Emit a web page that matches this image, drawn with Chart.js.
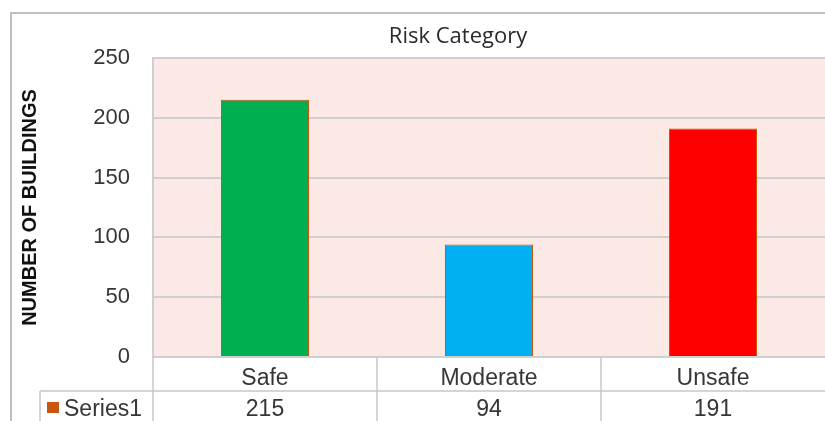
<!DOCTYPE html>
<html><head><meta charset="utf-8">
<script src="https://cdn.jsdelivr.net/npm/chart.js@4.4.0/dist/chart.umd.min.js"></script>
<style>html,body{margin:0;padding:0;background:#fff;} #wrap{width:825px;height:421px;position:relative;}</style>
</head><body><div id="wrap"><canvas id="c" width="825" height="421"></canvas></div>
<script>
const categories = ['Safe', 'Moderate', 'Unsafe'];
const buildings = [215, 94, 191];
const seriesName = 'Series1';
const chartTitle = 'Risk Category';
const yAxisTitle = 'NUMBER OF BUILDINGS';
const yMin = 0, yMax = 250, yStep = 50;

const TXT = '#363636';
const FONT = '"Liberation Sans", Arial, sans-serif';

const tablePlugin = {
  id: 'tablePlugin',
  beforeDraw(chart) {
    const {ctx, chartArea: a} = chart;
    ctx.save();
    ctx.fillStyle = '#FBE9E5';
    ctx.fillRect(a.left, a.top, a.right - a.left, a.bottom - a.top);
    ctx.restore();
  },
  afterDraw(chart) {
    const {ctx, chartArea: a, scales: {x}} = chart;
    const H = chart.height, W = chart.width;
    ctx.save();
    // outer frame
    ctx.strokeStyle = '#BFBFBF'; ctx.lineWidth = 2;
    ctx.beginPath(); ctx.moveTo(11, H + 5); ctx.lineTo(11, 13); ctx.lineTo(W + 5, 13); ctx.stroke();
    // title
    ctx.fillStyle = '#2a2a2a'; ctx.font = '22px "Open Sans", sans-serif';
    ctx.textAlign = 'center'; ctx.textBaseline = 'middle';
    ctx.fillText(chartTitle, 458, 37);
    // data table
    const rowY = 391;
    const bounds = [a.left];
    for (let i = 0; i < categories.length - 1; i++) bounds.push((x.getPixelForValue(i) + x.getPixelForValue(i + 1)) / 2);
    ctx.strokeStyle = '#C8C8C8'; ctx.lineWidth = 1.5;
    ctx.beginPath();
    ctx.moveTo(40, rowY); ctx.lineTo(a.right, rowY);
    ctx.moveTo(40, rowY); ctx.lineTo(40, H);
    bounds.forEach(b => { ctx.moveTo(b, a.bottom); ctx.lineTo(b, H); });
    ctx.stroke();
    ctx.font = '23px ' + FONT; ctx.fillStyle = TXT;
    buildings.forEach((v, i) => ctx.fillText(String(v), x.getPixelForValue(i), 410));
    // legend key
    ctx.fillStyle = '#C9560E'; ctx.fillRect(47, 402, 12, 11);
    ctx.fillStyle = TXT; ctx.textAlign = 'left';
    ctx.fillText(seriesName, 64, 410);
    ctx.restore();
  }
};

new Chart(document.getElementById('c'), {
  type: 'bar',
  data: {
    labels: categories,
    datasets: [{
      label: seriesName,
      data: buildings,
      backgroundColor: ['#00B050', '#00B0F0', '#FF0000'],
      borderColor: '#C9560E',
      borderWidth: 1,
      categoryPercentage: 1,
      barPercentage: 0.393
    }]
  },
  options: {
    responsive: false,
    devicePixelRatio: 1,
    animation: false,
    layout: {padding: {top: 58, left: 0, right: 0, bottom: 0}},
    plugins: {legend: {display: false}, title: {display: false}, tooltip: {enabled: false}},
    scales: {
      x: {
        grid: {display: false},
        border: {display: false},
        ticks: {font: {size: 23, family: FONT}, color: TXT, padding: 0},
        afterFit(s) { s.height = 64; }
      },
      y: {
        min: yMin, max: yMax,
        ticks: {stepSize: yStep, font: {size: 22, family: FONT}, color: TXT, padding: 23},
        grid: {color: '#CFCFCF', lineWidth: 2, drawTicks: false},
        border: {display: true, color: '#CFCFCF', width: 2},
        title: {display: true, text: yAxisTitle, color: '#111', font: {size: 20, weight: 'bold', family: FONT}, padding: {top: 18, bottom: 0}},
        afterFit(s) { s.width = 153; }
      }
    }
  },
  plugins: [tablePlugin]
});
</script>
</body></html>
